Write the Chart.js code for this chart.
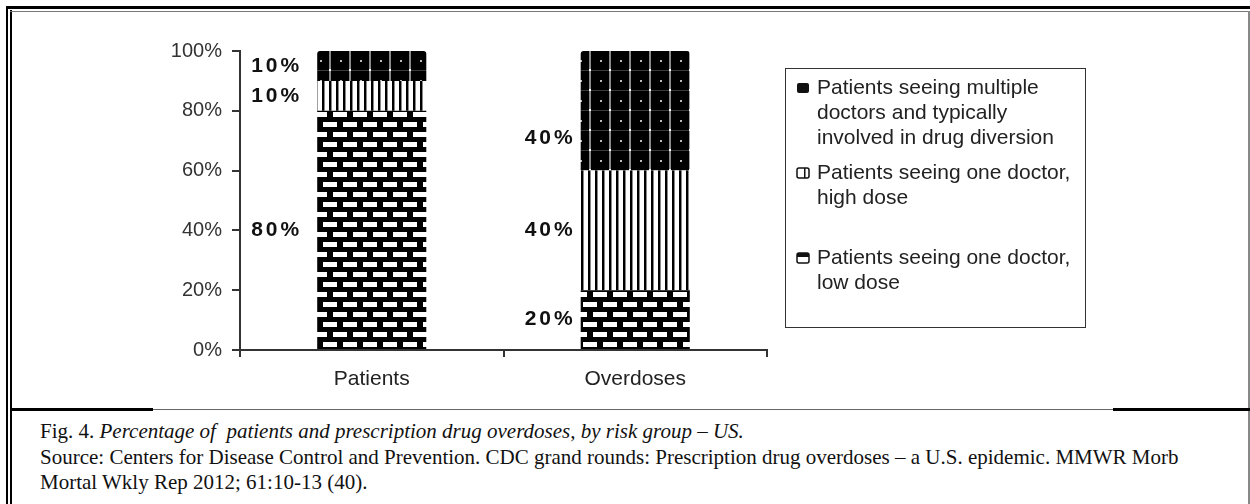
<!DOCTYPE html>
<html><head><meta charset="utf-8">
<script src="https://cdn.jsdelivr.net/npm/chart.js@4.4.1/dist/chart.umd.min.js"></script>
<style>
html,body{margin:0;padding:0;background:#fff;width:1250px;height:504px;overflow:hidden;position:relative}
#wrap{position:absolute;left:0;top:0;width:1250px;height:408px}
.ln{position:absolute}
#cap{position:absolute;left:40px;top:419px;font-family:"Liberation Serif","Times New Roman",serif;font-size:21px;line-height:25.5px;color:#111;white-space:nowrap}
</style></head><body>
<div id="wrap"><canvas id="c" width="1250" height="408"></canvas></div>
<div class="ln" style="left:6px;top:6px;width:2px;height:498px;background:#000"></div>
<div class="ln" style="left:10px;top:10px;width:2px;height:494px;background:#000"></div>
<div class="ln" style="left:6px;top:6px;width:1244px;height:3px;background:#000"></div>
<div class="ln" style="left:10px;top:11px;width:1240px;height:1px;background:#777"></div>
<div class="ln" style="left:1248px;top:11px;width:2px;height:493px;background:#888"></div>
<div class="ln" style="left:12px;top:409px;width:1238px;height:1px;background:#666"></div>
<div class="ln" style="left:12px;top:408px;width:141px;height:3px;background:#000"></div>
<div class="ln" style="left:1113px;top:408px;width:137px;height:3px;background:#000"></div>
<div id="cap">Fig. 4. <i>Percentage of&nbsp; patients and prescription drug overdoses, by risk group – US.</i><br>Source: Centers for Disease Control and Prevention. CDC grand rounds: Prescription drug overdoses – a U.S. epidemic. MMWR Morb<br>Mortal Wkly Rep 2012; 61:10-13 (40).</div>
<script>
const categories = ["Patients", "Overdoses"];
const lowDose = [80, 20];
const highDose = [10, 40];
const multipleDoctors = [10, 40];
const yTicks = [0, 20, 40, 60, 80, 100];
const legendLow = ["Patients seeing one doctor,", "low dose"];
const legendHigh = ["Patients seeing one doctor,", "high dose"];
const legendMulti = ["Patients seeing multiple", "doctors and typically", "involved in drug diversion"];

function makePattern(w, h, draw) {
  const c = document.createElement('canvas');
  c.width = w; c.height = h;
  const x = c.getContext('2d');
  draw(x);
  return document.getElementById('c').getContext('2d').createPattern(c, 'repeat');
}
const brick = makePattern(20, 20, x => {
  x.fillStyle = '#000'; x.fillRect(0, 0, 20, 20);
  x.fillStyle = '#fff';
  x.fillRect(3, 2, 14, 5);
  x.fillRect(13, 12, 7, 5); x.fillRect(0, 12, 7, 5);
});
const stripes = makePattern(7, 4, x => {
  x.fillStyle = '#fff'; x.fillRect(0, 0, 7, 4);
  x.fillStyle = '#000'; x.fillRect(0, 0, 2, 4);
  x.fillStyle = '#888'; x.fillRect(2, 0, 1, 4);
});
const grid = makePattern(20, 20, x => {
  x.fillStyle = '#000'; x.fillRect(0, 0, 20, 20);
  x.fillStyle = '#3a3a3a'; x.fillRect(0, 10, 20, 1);
  x.fillStyle = '#8a8a8a'; x.fillRect(9, 0, 2, 20);
  x.fillStyle = '#fff'; x.fillRect(9, 9, 2, 2);
  x.fillStyle = '#bbb'; x.fillRect(0, 0, 2, 2);
});

const FONT = '"Liberation Sans", Arial, sans-serif';

const labelPlugin = {
  id: 'segLabels',
  afterDatasetsDraw(chart, args, opts) {
    const ctx = chart.ctx;
    ctx.save();
    ctx.font = 'bold 21px ' + FONT;
    ctx.letterSpacing = '3px';
    ctx.fillStyle = '#111';
    ctx.textAlign = 'right';
    ctx.textBaseline = 'middle';
    chart.data.datasets.forEach((ds, i) => {
      const meta = chart.getDatasetMeta(i);
      meta.data.forEach((bar, j) => {
        const off = (opts.offsets[i] && opts.offsets[i][j]) || 0;
        const y = (bar.y + bar.base) / 2 + off;
        const x = bar.x - bar.width / 2 - opts.gaps[j];
        ctx.fillText(ds.data[j] + '%', x, y);
      });
    });
    ctx.restore();
  }
};

const legendPlugin = {
  id: 'boxLegend',
  afterDraw(chart, args, o) {
    const ctx = chart.ctx;
    ctx.save();
    ctx.strokeStyle = '#333'; ctx.lineWidth = 1;
    ctx.strokeRect(o.box[0] + 0.5, o.box[1] + 0.5, o.box[2], o.box[3]);
    ctx.font = '21px ' + FONT;
    ctx.fillStyle = '#222';
    ctx.textBaseline = 'middle';
    ctx.textAlign = 'left';
    const items = [
      {lines: chart.data.datasets[2].legendLines, kind: 'multi'},
      {lines: chart.data.datasets[1].legendLines, kind: 'high'},
      {lines: chart.data.datasets[0].legendLines, kind: 'low'}
    ];
    items.forEach((it, k) => {
      const y0 = o.itemY[k];
      it.lines.forEach((t, m) => ctx.fillText(t, o.textX, y0 + m * o.lineH));
      const mx = o.markX, my = y0 - 5, mw = 12, mh = 10;
      ctx.lineWidth = 1.5; ctx.strokeStyle = '#111';
      if (it.kind === 'multi') {
        ctx.fillStyle = '#111';
        ctx.beginPath(); ctx.roundRect(mx, my, mw, mh, 2); ctx.fill();
      } else if (it.kind === 'high') {
        ctx.fillStyle = '#fff';
        ctx.beginPath(); ctx.roundRect(mx, my, mw, mh, 2); ctx.fill(); ctx.stroke();
        ctx.fillStyle = '#111'; ctx.fillRect(mx + 7, my, 1.5, mh);
      } else {
        ctx.fillStyle = '#fff';
        ctx.beginPath(); ctx.roundRect(mx, my, mw, mh, 2); ctx.fill(); ctx.stroke();
        ctx.fillStyle = '#111'; ctx.fillRect(mx, my, mw, 4);
      }
      ctx.fillStyle = '#222';
    });
    ctx.restore();
  }
};

new Chart(document.getElementById('c'), {
  type: 'bar',
  data: {
    labels: categories,
    datasets: [
      {label: legendLow.join(' '), legendLines: legendLow, data: lowDose, backgroundColor: brick, borderColor: '#000', borderWidth: 0},
      {label: legendHigh.join(' '), legendLines: legendHigh, data: highDose, backgroundColor: stripes, borderWidth: 0},
      {label: legendMulti.join(' '), legendLines: legendMulti, data: multipleDoctors, backgroundColor: grid, borderWidth: 0, borderRadius: {topLeft: 3, topRight: 3}, borderSkipped: false}
    ]
  },
  options: {
    responsive: false,
    animation: false,
    devicePixelRatio: 1,
    layout: {padding: {left: 0, top: 51, right: 483, bottom: 0}},
    datasets: {bar: {barPercentage: 0.414, categoryPercentage: 1}},
    plugins: {
      legend: {display: false},
      tooltip: {enabled: false},
      segLabels: {gaps: [15, 5], offsets: {2: {1: 27}}},
      boxLegend: {box: [785, 68, 300, 259], itemY: [88, 173, 258], lineH: 25, textX: 817, markX: 797}
    },
    scales: {
      x: {
        stacked: true,
        grid: {drawOnChartArea: false, drawTicks: true, tickLength: 7, color: '#333', lineWidth: 2, offset: true},
        border: {color: '#333', width: 2},
        ticks: {color: '#222', font: {family: FONT, size: 21}, padding: 10},
        afterFit: s => { s.height = 58; }
      },
      y: {
        stacked: true, min: 0, max: 100,
        afterBuildTicks: s => { s.ticks = yTicks.map(v => ({value: v})); },
        ticks: {callback: v => v + '%', padding: 10, color: '#333', font: {family: FONT, size: 20}},
        grid: {drawOnChartArea: false, tickLength: 8, color: '#333', lineWidth: 2},
        border: {color: '#333', width: 2},
        afterFit: s => { s.width = 240; }
      }
    }
  },
  plugins: [labelPlugin, legendPlugin]
});
</script>
</body></html>
